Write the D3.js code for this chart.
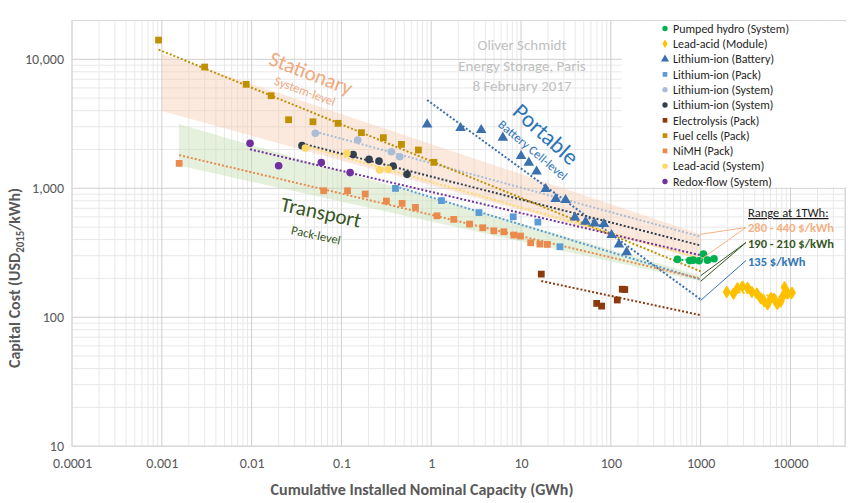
<!DOCTYPE html>
<html><head><meta charset="utf-8">
<script src="https://cdn.jsdelivr.net/npm/d3@7"></script>
<style>
body{margin:0;background:#fff}
svg{display:block}
text{font-family:Carlito, Calibri, Lato, "Noto Sans", sans-serif}
</style>
</head><body>
<svg id="c" width="865" height="503"></svg>
<script>
// ---------- DATA ----------
const xTickValues = [1e-4, 1e-3, 1e-2, 1e-1, 1, 10, 100, 1000, 10000];
const xTickLabels = ["0.0001", "0.001", "0.01", "0.1", "1", "10", "100", "1000", "10000"];
const yTickValues = [10, 100, 1000, 10000];
const yTickLabels = ["10", "100", "1,000", "10,000"];

const pumpedHydroX = [551, 755, 826, 959, 1074, 1191, 1410];
const pumpedHydroY = [281, 275, 277, 274, 309, 277, 284];

const leadAcidModuleX = [1950, 2320, 2570, 2920, 3330, 3720, 4220, 4680, 5090, 5560, 6050, 6580, 7110, 7760, 8280, 8600, 9360, 10400];
const leadAcidModuleY = [157, 152, 168, 173, 169, 157, 153, 140, 133, 126, 141, 139, 127, 132, 146, 171, 153, 155];

const liIonBatteryX = [0.90, 2.12, 3.60, 6.27, 10.0, 12.2, 14.9, 18.8, 24.3, 31.3, 39.8, 52.4, 65.9, 83.8, 102, 123, 150];
const liIonBatteryY = [3130, 2930, 2830, 2470, 1780, 1580, 1350, 986, 825, 810, 594, 550, 534, 528, 434, 366, 320];

const liIonPackX = [0.40, 1.30, 3.40, 8.18, 15.4, 27.1];
const liIonPackY = [998, 803, 648, 601, 547, 352];

const liIonSystemLightX = [0.0512, 0.152, 0.36, 0.446];
const liIonSystemLightY = [2670, 2370, 1920, 1755];

const liIonSystemDarkX = [0.0364, 0.135, 0.203, 0.262, 0.376, 0.538];
const liIonSystemDarkY = [2140, 1825, 1675, 1625, 1487, 1282];

const electrolysisX = [16.8, 69.5, 78.9, 118, 134, 143];
const electrolysisY = [216, 128, 122, 136, 165, 164];

const fuelCellsX = [0.00092, 0.0030, 0.0087, 0.0165, 0.0258, 0.0482, 0.0916, 0.167, 0.293, 0.466, 0.72, 1.07];
const fuelCellsY = [14100, 8710, 6400, 5220, 3400, 3280, 3190, 2700, 2470, 2190, 1980, 1590];

const nimhX = [0.00156, 0.0634, 0.117, 0.184, 0.317, 0.474, 0.667, 1.16, 1.78, 2.67, 3.75, 4.98, 6.43, 8.31, 9.87, 12.8, 16.2, 19.6];
const nimhY = [1560, 957, 957, 902, 796, 764, 711, 612, 574, 528, 494, 468, 460, 434, 426, 378, 369, 367];

const leadAcidSystemX = [0.0397, 0.115, 0.267, 0.333];
const leadAcidSystemY = [2050, 1865, 1385, 1400];

const redoxX = [0.0096, 0.020, 0.0597, 0.125];
const redoxY = [2230, 1495, 1583, 1324];

// bands (x, high, low)
const stationaryBandX = [0.001, 1000];
const stationaryBandHigh = [11000, 440];
const stationaryBandLow = [3970, 280];
const transportBandX = [0.00155, 1000];
const transportBandHigh = [3150, 210];
const transportBandLow = [1500, 190];

const projectionX = 1000; // 1 TWh
const stationaryRange = [280, 440];
const transportRange = [190, 210];
const portableRange = [135];

const series = [
  {name: "Pumped hydro (System)", xs: pumpedHydroX, ys: pumpedHydroY, shape: "circle", color: "#00B050", trend: "own"},
  {name: "Lead-acid (Module)", xs: leadAcidModuleX, ys: leadAcidModuleY, shape: "diamond", color: "#FFC000", trend: "own"},
  {name: "Lithium-ion (Battery)", xs: liIonBatteryX, ys: liIonBatteryY, shape: "triangle", color: "#3A70AD", trend: "extend"},
  {name: "Lithium-ion (Pack)", xs: liIonPackX, ys: liIonPackY, shape: "square", color: "#5B9BD5", trend: "extend"},
  {name: "Lithium-ion (System)", xs: liIonSystemLightX, ys: liIonSystemLightY, shape: "circle", color: "#A9BED6", trend: "extend"},
  {name: "Lithium-ion (System)", xs: liIonSystemDarkX, ys: liIonSystemDarkY, shape: "circle", color: "#323F4F", trend: "extend"},
  {name: "Electrolysis (Pack)", xs: electrolysisX, ys: electrolysisY, shape: "square", color: "#8B3A0E", trend: "extend"},
  {name: "Fuel cells (Pack)", xs: fuelCellsX, ys: fuelCellsY, shape: "square", color: "#BF9000", trend: "extend"},
  {name: "NiMH (Pack)", xs: nimhX, ys: nimhY, shape: "square", color: "#EA8A4C", trend: "extend"},
  {name: "Lead-acid (System)", xs: leadAcidSystemX, ys: leadAcidSystemY, shape: "circle", color: "#FFD966", trend: "extend"},
  {name: "Redox-flow (System)", xs: redoxX, ys: redoxY, shape: "circle", color: "#7030A0", trend: "extend"}
];

// ---------- CHART ----------
const svg = d3.select("#c");
const x = d3.scaleLog().domain([1e-4, 4.1e4]).range([72, 845.5]);
const y = d3.scaleLog().domain([10, 2e4]).range([446.2, 20.5]);
const [X0, X1] = x.range();
const [Y0, Y1] = y.range();

// minor grid
const minorX = [], minorY = [];
for (let e = -4; e <= 4; e++) for (let k = 2; k <= 9; k++) { const v = k * Math.pow(10, e); if (v < 4.1e4) minorX.push(v); }
for (let e = 1; e <= 4; e++) for (let k = 2; k <= 9; k++) { const v = k * Math.pow(10, e); if (v < 2e4) minorY.push(v); }
const grid = svg.append("g");
grid.selectAll(".mx").data(minorX).join("line").attr("x1", d => x(d)).attr("x2", d => x(d)).attr("y1", Y1).attr("y2", Y0).attr("stroke", "#E8E8E8").attr("stroke-width", 1);
grid.selectAll(".my").data(minorY).join("line").attr("y1", d => y(d)).attr("y2", d => y(d)).attr("x1", X0).attr("x2", X1).attr("stroke", "#E8E8E8").attr("stroke-width", 1);
grid.selectAll(".Mx").data(xTickValues).join("line").attr("x1", d => x(d)).attr("x2", d => x(d)).attr("y1", Y1).attr("y2", Y0).attr("stroke", "#CFCFCF").attr("stroke-width", 1);
grid.selectAll(".My").data(yTickValues).join("line").attr("y1", d => y(d)).attr("y2", d => y(d)).attr("x1", X0).attr("x2", X1).attr("stroke", "#CFCFCF").attr("stroke-width", 1);
grid.append("rect").attr("x", X0).attr("y", Y1).attr("width", X1 - X0).attr("height", Y0 - Y1).attr("fill", "none").attr("stroke", "#D9D9D9");

// axes
const xAxis = d3.axisBottom(x).tickValues(xTickValues).tickFormat((d, i) => xTickLabels[i]).tickSize(0).tickPadding(12);
const gx = svg.append("g").attr("transform", `translate(0,${Y0})`).call(xAxis);
gx.select(".domain").remove();
gx.selectAll("text").attr("fill", "#595959").style("font-size", "14px").style("font-family", "Carlito, Calibri, Lato, sans-serif");
const yAxis = d3.axisLeft(y).tickValues(yTickValues).tickFormat((d, i) => yTickLabels[i]).tickSize(0).tickPadding(8);
const gy = svg.append("g").attr("transform", `translate(${X0},0)`).call(yAxis);
gy.select(".domain").remove();
gy.selectAll("text").attr("fill", "#595959").style("font-size", "14px").style("font-family", "Carlito, Calibri, Lato, sans-serif");

// bands
function bandPath(xs, hi, lo) {
  const pts = xs.map((v, i) => [x(v), y(hi[i])]).concat(xs.map((v, i) => [x(v), y(lo[i])]).reverse());
  return d3.line()(pts) + "Z";
}
svg.append("path").attr("d", bandPath(stationaryBandX, stationaryBandHigh, stationaryBandLow)).attr("fill", "#F8CBAD").attr("opacity", 0.42);
svg.append("path").attr("d", bandPath(transportBandX, transportBandHigh, transportBandLow)).attr("fill", "#C5E0B4").attr("opacity", 0.45);

// trend lines (power-law least squares in log-log space)
function fit(xs, ys) {
  const lx = xs.map(Math.log10), ly = ys.map(Math.log10);
  const mx = d3.mean(lx), my = d3.mean(ly);
  const b = d3.sum(lx, (v, i) => (v - mx) * (ly[i] - my)) / d3.sum(lx, v => (v - mx) * (v - mx));
  return v => Math.pow(10, my + b * (Math.log10(v) - mx));
}
const trendG = svg.append("g");
series.forEach(s => {
  const f = fit(s.xs, s.ys);
  const xa = d3.min(s.xs);
  const xb = s.trend === "extend" ? projectionX : d3.max(s.xs);
  trendG.append("line")
    .attr("x1", x(xa)).attr("y1", y(f(xa)))
    .attr("x2", x(xb)).attr("y2", y(f(xb)))
    .attr("stroke", s.color).attr("stroke-width", 2).attr("stroke-dasharray", "2,2");
});

// points
const symMap = {circle: d3.symbolCircle, square: d3.symbolSquare, triangle: d3.symbolTriangle, diamond: d3.symbolDiamond};
const sizeMap = {circle: 46, square: 46, triangle: 48, diamond: 26};
const ptsG = svg.append("g");
series.forEach(s => {
  ptsG.selectAll(null).data(s.xs.map((v, i) => [v, s.ys[i]])).join("path")
    .attr("transform", d => `translate(${x(d[0])},${y(d[1])})`)
    .attr("d", d3.symbol(symMap[s.shape], sizeMap[s.shape]))
    .attr("fill", s.color)
    .attr("stroke", s.shape === "diamond" ? s.color : "none")
    .attr("stroke-width", s.shape === "diamond" ? 2.2 : 0)
    .attr("stroke-linejoin", "round");
});

// legend
const lg = svg.append("g");
lg.append("rect").attr("x", 622).attr("y", 21.5).attr("width", 224).attr("height", 166).attr("fill", "#fff");
series.forEach((s, i) => {
  const ly = 28.5 + i * 15.3;
  lg.append("path").attr("transform", `translate(665,${ly})`).attr("d", d3.symbol(symMap[s.shape], s.shape === "triangle" ? 28 : 22)()).attr("fill", s.color);
  lg.append("text").attr("x", 673).attr("y", ly).attr("dy", "0.35em").text(s.name).attr("fill", "#262626").style("font-size", "12px");
});

// axis titles
const yt = svg.append("text").attr("transform", "translate(20,278) rotate(-90)").attr("text-anchor", "middle")
  .attr("fill", "#595959").style("font-weight", "bold").style("font-size", "16px");
yt.append("tspan").text("Capital Cost (USD");
yt.append("tspan").attr("dy", 4).style("font-size", "11px").text("2015");
yt.append("tspan").attr("dy", -4).text("/kWh)");
svg.append("text").attr("x", 422).attr("y", 495).attr("text-anchor", "middle").attr("fill", "#595959")
  .style("font-weight", "bold").style("font-size", "16px").text("Cumulative Installed Nominal Capacity (GWh)");

// watermark
["Oliver Schmidt", "Energy Storage, Paris", "8 February 2017"].forEach((t, i) => {
  svg.append("text").attr("x", 522).attr("y", 50 + i * 20.5).attr("text-anchor", "middle").attr("fill", "#BFBFBF").style("font-size", "15px").text(t);
});

// rotated annotations
function rot(t, cx, cy, a, size, color) {
  svg.append("text").attr("transform", `translate(${cx},${cy}) rotate(${a})`).attr("text-anchor", "middle").attr("dy", "0.35em")
    .attr("fill", color).style("font-size", size + "px").text(t);
}
rot("Stationary", 311, 73, 21, 21, "#F0A97E");
rot("System-level", 305, 91, 20, 12.5, "#F0A97E");
rot("Transport", 321, 212, 12, 21, "#375623");
rot("Pack-level", 316, 235, 12, 12.5, "#375623");
rot("Portable", 546, 134, 42, 23, "#2E75B6");
rot("Battery Cell-level", 533, 150, 40, 12.5, "#2E75B6");

// range at 1 TWh
const px = x(projectionX);
svg.append("text").attr("x", 748).attr("y", 217).attr("fill", "#1a1a1a").style("font-size", "12.5px")
  .style("text-decoration", "underline").text("Range at 1TWh:");
const rangeDefs = [
  {vals: stationaryRange, color: "#F4B183", ty: 232, ly: 227.5, label: `${stationaryRange[0]} - ${stationaryRange[1]} $/kWh`},
  {vals: transportRange, color: "#375623", ty: 248, ly: 242.5, label: `${transportRange[0]} - ${transportRange[1]} $/kWh`},
  {vals: portableRange, color: "#2E75B6", ty: 266, ly: 260.5, label: `${portableRange[0]} $/kWh`}
];
rangeDefs.forEach(r => {
  r.vals.forEach(v => {
    svg.append("line").attr("x1", px).attr("y1", y(v)).attr("x2", 746).attr("y2", r.ly).attr("stroke", r.color).attr("stroke-width", 1);
  });
  svg.append("text").attr("x", 748).attr("y", r.ty).attr("fill", r.color).style("font-weight", "bold").style("font-size", "12.5px").text(r.label);
});
</script>
</body></html>
